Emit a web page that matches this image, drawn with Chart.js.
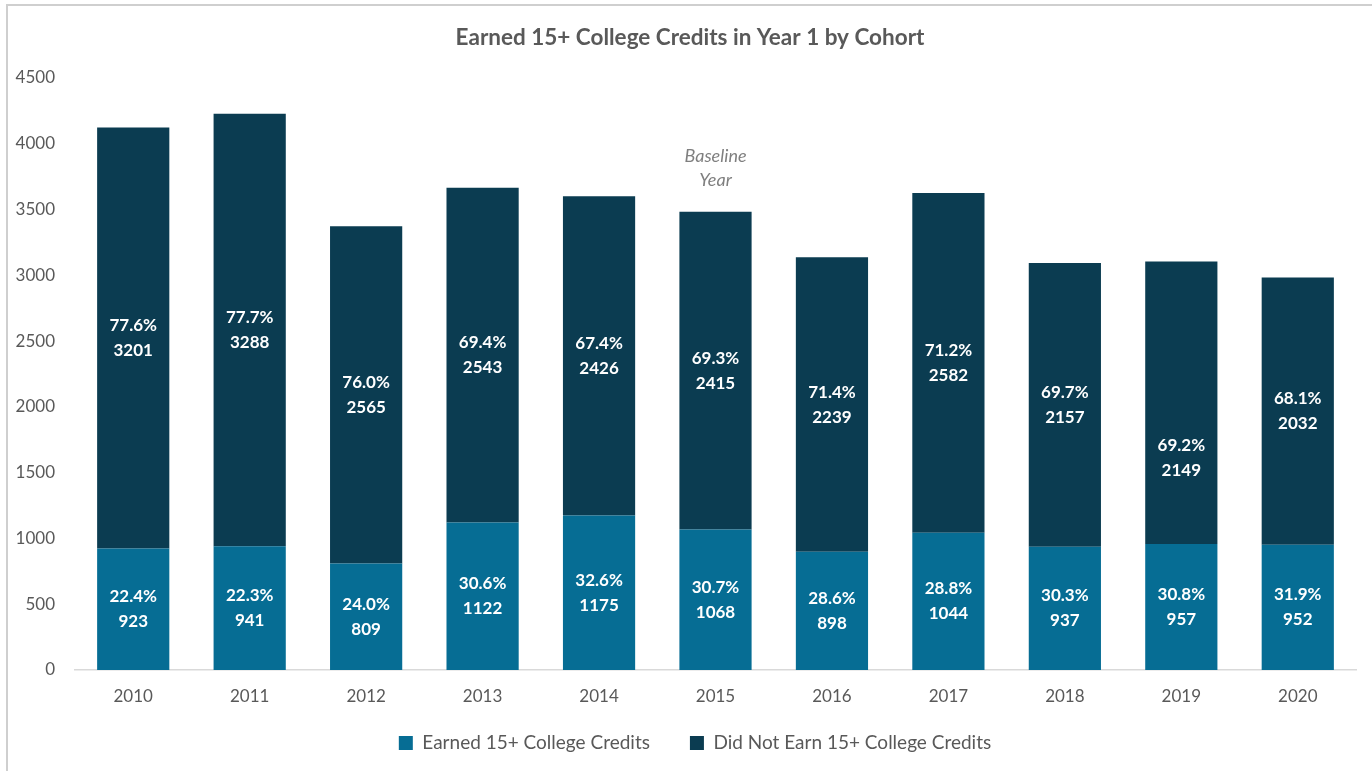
<!DOCTYPE html>
<html>
<head>
<meta charset="utf-8">
<script src="https://cdn.jsdelivr.net/npm/chart.js@4/dist/chart.umd.min.js"></script>
<style>
  html, body { margin: 0; padding: 0; background: #ffffff; }
  #frame { position: absolute; left: 6px; top: 4px; width: 1366px; height: 767px;
           border-top: 2px solid #cfcfcf; border-left: 2px solid #cfcfcf; box-sizing: border-box; }
  #wrap { position: absolute; left: 0; top: 0; width: 1372px; height: 771px; }
</style>
</head>
<body>
<div id="frame"></div>
<div id="wrap"><canvas id="c" width="1372" height="771"></canvas></div>
<script>
const cohorts = ['2010','2011','2012','2013','2014','2015','2016','2017','2018','2019','2020'];
const earnedCounts = [923, 941, 809, 1122, 1175, 1068, 898, 1044, 937, 957, 952];
const notEarnedCounts = [3201, 3288, 2565, 2543, 2426, 2415, 2239, 2582, 2157, 2149, 2032];
const earnedPct = ['22.4%','22.3%','24.0%','30.6%','32.6%','30.7%','28.6%','28.8%','30.3%','30.8%','31.9%'];
const notEarnedPct = ['77.6%','77.7%','76.0%','69.4%','67.4%','69.3%','71.4%','71.2%','69.7%','69.2%','68.1%'];
const yTicks = [0, 500, 1000, 1500, 2000, 2500, 3000, 3500, 4000, 4500];
const seriesNames = ['Earned 15+ College Credits', 'Did Not Earn 15+ College Credits'];
const baselineCohort = '2015';
const baselineText = ['Baseline', 'Year'];

const FONT = 'Lato, "Open Sans", sans-serif';
const TEXT = '#595959';

const segLabels = {
  id: 'segLabels',
  afterDatasetsDraw(chart, args, opts) {
    const ctx = chart.ctx;
    const pcts = [earnedPct, notEarnedPct];
    const counts = [earnedCounts, notEarnedCounts];
    ctx.save();
    ctx.fillStyle = '#ffffff';
    ctx.textAlign = 'center';
    ctx.textBaseline = 'middle';
    ctx.font = 'bold 17px ' + FONT;
    chart.data.datasets.forEach((ds, di) => {
      const meta = chart.getDatasetMeta(di);
      meta.data.forEach((bar, i) => {
        const p = bar.getProps(['x', 'y', 'base'], true);
        let cy = (p.y + p.base) / 2;
        const nudge = (opts.nudge[di] || {})[i] || 0;
        cy += nudge;
        ctx.fillText(pcts[di][i], p.x, cy - 12.5);
        ctx.fillText(String(counts[di][i]), p.x, cy + 12.5);
      });
    });
    ctx.restore();
  }
};

const baseline = {
  id: 'baseline',
  afterDatasetsDraw(chart) {
    const idx = cohorts.indexOf(baselineCohort);
    const x = chart.scales.x.getPixelForValue(idx);
    const total = earnedCounts[idx] + notEarnedCounts[idx];
    const top = chart.scales.y.getPixelForValue(total);
    const ctx = chart.ctx;
    ctx.save();
    ctx.fillStyle = '#7f7f7f';
    ctx.textAlign = 'center';
    ctx.textBaseline = 'middle';
    ctx.font = 'italic 18px ' + FONT;
    ctx.fillText(baselineText[0], x, top - 56);
    ctx.fillText(baselineText[1], x, top - 32);
    ctx.restore();
  }
};

// Fine placement of the title and legend boxes after the library's layout pass
const boxShift = {
  id: 'boxShift',
  afterLayout(chart) {
    const t = chart.titleBlock;
    if (t) { t.left += 24; }
    const lg = chart.legend;
    if (lg) {
      const h = lg.height;
      lg.top = 693.5; lg.bottom = lg.top + h;
      lg.left += 17; lg.right += 17;
    }
  }
};

new Chart(document.getElementById('c'), {
  type: 'bar',
  data: {
    labels: cohorts,
    datasets: [
      { label: seriesNames[0], data: earnedCounts, backgroundColor: '#066D94', borderWidth: 0 },
      { label: seriesNames[1], data: notEarnedCounts, backgroundColor: '#0B3C51', borderWidth: 0 }
    ]
  },
  options: {
    responsive: false,
    animation: false,
    devicePixelRatio: 1,
    layout: { padding: { left: 0, right: 16, top: 0, bottom: 0 } },
    datasets: { bar: { categoryPercentage: 1.0, barPercentage: 0.62 } },
    scales: {
      x: {
        stacked: true,
        grid: { display: false, drawTicks: false },
        border: { display: true, color: '#d9d9d9', width: 1.5 },
        ticks: { color: TEXT, font: { family: FONT, size: 17 }, padding: 16 },
        afterFit(s) { s.height = 41; }
      },
      y: {
        stacked: true,
        min: 0, max: 4500,
        afterBuildTicks(s) { s.ticks = yTicks.map(v => ({ value: v })); },
        grid: { display: false, drawTicks: false },
        border: { display: false },
        ticks: { color: TEXT, font: { family: FONT, size: 17 }, padding: 20, callback: v => String(v) },
        afterFit(s) { s.width = 75; }
      }
    },
    plugins: {
      title: {
        display: true,
        text: 'Earned 15+ College Credits in Year 1 by Cohort',
        color: TEXT,
        font: { family: FONT, size: 22.5, weight: 'bold' },
        padding: { top: 24, bottom: 27 }
      },
      legend: {
        position: 'bottom',
        maxHeight: 60,
        labels: {
          color: TEXT,
          font: { family: FONT, size: 19 },
          boxWidth: 14, boxHeight: 14,
          padding: 40
        }
      },
      tooltip: { enabled: false },
      segLabels: { nudge: { 1: { 9: 55 } } }
    }
  },
  plugins: [segLabels, baseline, boxShift]
});
</script>
</body>
</html>
